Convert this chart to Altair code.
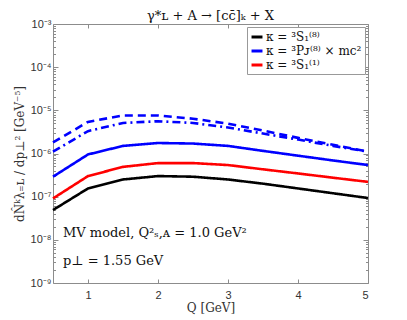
import altair as alt
import pandas as pd

Q = [0.5, 1.0, 1.5, 2.0, 2.5, 3.0, 3.5, 4.0, 4.5, 5.0]
s8 = [4.9e-8, 1.55e-7, 2.5e-7, 3.0e-7, 2.9e-7, 2.5e-7, 2.0e-7, 1.55e-7, 1.2e-7, 9.3e-8]
s1 = [9.1e-8, 3.0e-7, 4.9e-7, 6.0e-7, 6.0e-7, 5.4e-7, 4.3e-7, 3.45e-7, 2.75e-7, 2.2e-7]
pj = [2.9e-7, 9.5e-7, 1.5e-6, 1.75e-6, 1.7e-6, 1.5e-6, 1.15e-6, 8.9e-7, 6.9e-7, 5.4e-7]
pj_dash = [1.8e-6, 5.4e-6, 7.6e-6, 7.6e-6, 6.4e-6, 4.9e-6, 3.4e-6, 2.3e-6, 1.6e-6, 1.1e-6]
pj_dashdot = [1.1e-6, 3.3e-6, 5.1e-6, 5.6e-6, 5.1e-6, 4.0e-6, 2.9e-6, 2.1e-6, 1.5e-6, 1.1e-6]

labels = ["κ = ³S₁⁽⁸⁾", "κ = ³Pᴊ⁽⁸⁾ × mc²", "κ = ³S₁⁽¹⁾"]
colors = ["#000000", "#0000ff", "#ff0000"]
styles = ["solid", "dashed", "dashdot"]

title_text = ["γ*ʟ + A → [cc̄]ₖ + X"]
ann_text = ["MV model,  Q²ₛ,ᴀ =  1.0 GeV²", "p⊥ = 1.55 GeV"]

rows = []
for lab, sty, vals in [(labels[0], "solid", s8), (labels[1], "solid", pj),
                       (labels[2], "solid", s1), (labels[1], "dashed", pj_dash),
                       (labels[1], "dashdot", pj_dashdot)]:
    for q, v in zip(Q, vals):
        rows.append({"Q": q, "N": v, "kappa": lab, "style": sty})
df = pd.DataFrame(rows)

sup = {-9: "⁻⁹", -8: "⁻⁸", -7: "⁻⁷", -6: "⁻⁶", -5: "⁻⁵", -4: "⁻⁴", -3: "⁻³"}
yvals = []
for e in range(-9, -3):
    for m in range(1, 10):
        yvals.append(float(f"{m}e{e}"))
yvals.append(1e-3)
label_expr = "''"
for e in range(-9, -2):
    label_expr = f"abs(datum.value - 1e{e}) < 1e{e-4} ? '10{sup[e]}' : (" + label_expr + ")"

xvals = [1, 2, 3, 4, 5]

major_test = "abs(log(datum.value)/LN10 - round(log(datum.value)/LN10)) < 0.001"
axis_gray = "#8c8c8c"

xscale = alt.Scale(domain=[0.5, 5], nice=False, zero=False)
yscale = alt.Scale(type="log", domain=[1e-9, 1e-3], nice=False)

lines = alt.Chart(df).mark_line(strokeWidth=2.6).encode(
    x=alt.X("Q:Q", scale=xscale,
            axis=alt.Axis(values=xvals, title="Q [GeV]", titleFont="DejaVu Serif",
                          titleFontSize=12, titleFontWeight="normal", titleColor="#333",
                          labelFont="Liberation Sans", labelFontSize=11, labelColor="#333",
                          grid=False, domainColor=axis_gray, tickColor=axis_gray,
                          tickSize=alt.ExprRef(expr="-4"), labelPadding=10, titlePadding=2)),
    y=alt.Y("N:Q", scale=yscale,
            axis=alt.Axis(values=yvals, labelExpr=label_expr,
                          title="dN̂ᵏλ₌ʟ / dp⊥² [GeV⁻⁵]", titleFont="DejaVu Serif",
                          titleFontSize=12, titleFontWeight="normal", titleColor="#333",
                          labelFont="Liberation Sans", labelFontSize=11, labelColor="#333",
                          grid=False, domainColor=axis_gray, tickColor=axis_gray,
                          tickSize={"condition": {"test": major_test, "value": -5}, "value": -2.5},
                          labelPadding=7, titlePadding=4)),
    color=alt.Color("kappa:N", scale=alt.Scale(domain=labels, range=colors),
                    legend=alt.Legend(title=None, orient="top-right", offset=3,
                                      fillColor="white", strokeColor="#999",
                                      padding=3, labelFont="DejaVu Serif", labelFontSize=12,
                                      labelColor="#111", symbolType="stroke",
                                      symbolStrokeWidth=3, symbolSize=120,
                                      rowPadding=1, labelLimit=200, labelOffset=2)),
    strokeDash=alt.StrokeDash("style:N",
                              scale=alt.Scale(domain=styles, range=[[1, 0], [8, 5], [8, 4, 2, 4]]),
                              legend=None),
)

frame = alt.Chart(df).mark_line(opacity=0).encode(
    x=alt.X("Q:Q", scale=xscale,
            axis=alt.Axis(orient="top", values=xvals, labels=False, title=None, grid=False,
                          domainColor=axis_gray, tickColor=axis_gray,
                          tickSize=alt.ExprRef(expr="-4"))),
    y=alt.Y("N:Q", scale=yscale,
            axis=alt.Axis(orient="right", values=yvals, labels=False, title=None, grid=False,
                          domainColor=axis_gray, tickColor=axis_gray,
                          tickSize={"condition": {"test": major_test, "value": -5}, "value": -2.5})),
    detail="style:N",
)

ann = pd.DataFrame({"t": ann_text, "py": [209, 237]})
text = alt.Chart(ann).mark_text(align="left", baseline="middle", font="DejaVu Serif",
                                fontSize=13, color="#111").encode(
    x=alt.value(10), y=alt.Y("py:Q", scale=None), text="t:N")

ttl = pd.DataFrame({"t": title_text})
title = alt.Chart(ttl).mark_text(align="center", baseline="middle", font="DejaVu Serif",
                                 fontSize=13, color="#111").encode(
    x=alt.value(157.5), y=alt.value(-8), text="t:N")

chart = alt.layer(lines, frame, text, title).resolve_axis(x="independent", y="independent").properties(
    width=315, height=259,
    padding={"left": 45, "top": 16, "right": 20, "bottom": 35},
    autosize=alt.AutoSizeParams(type="none"),
).configure_view(stroke=None)

chart.save("out.html", embed_options={"renderer": "svg", "actions": False})
